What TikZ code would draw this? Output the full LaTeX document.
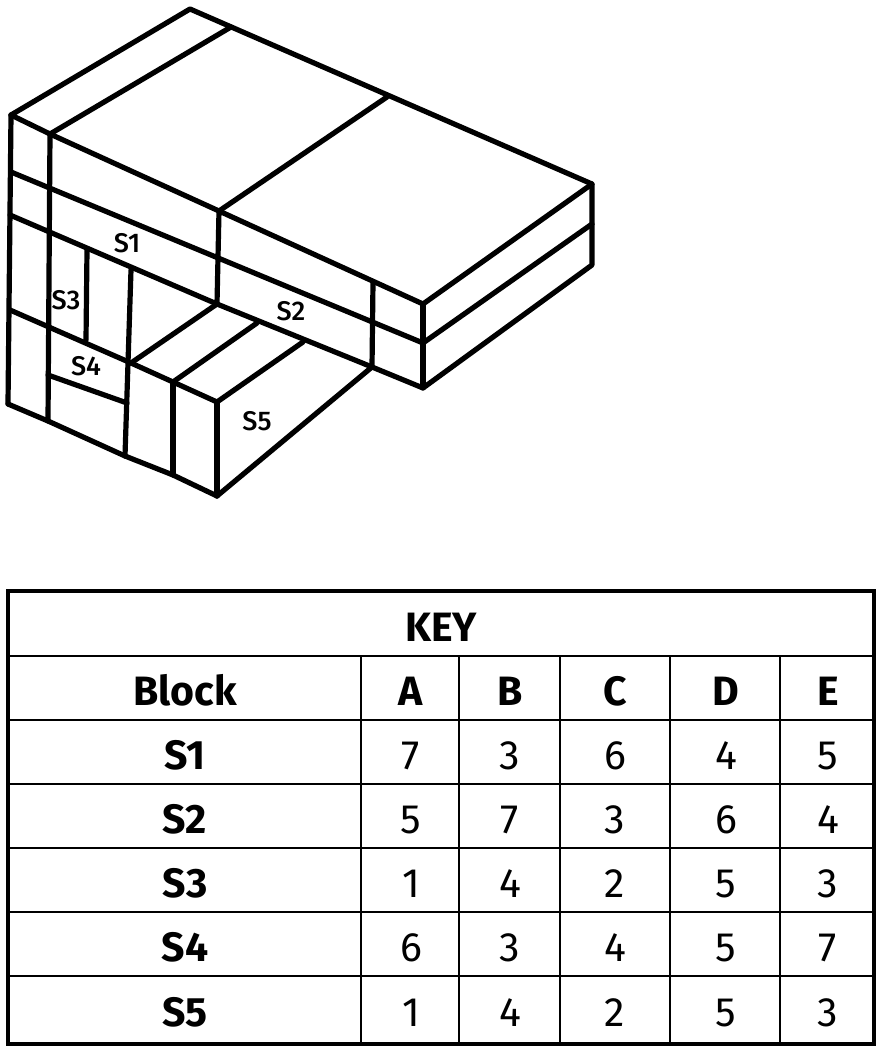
\documentclass[tikz,border=0pt]{standalone}
\usepackage{fontspec}
\setmainfont{Fira Sans}
\newfontfamily\labfont{Fira Sans Medium}
\tikzset{
  edge/.style={line width=5.2pt,line cap=round,line join=round,black},
  frame/.style={line width=4pt,black},
  grid/.style={line width=2.6pt,black},
  blocklabel/.style={font=\labfont\fontsize{27}{29}\selectfont,inner sep=0pt},
  headcell/.style={font=\fontsize{41}{44}\selectfont\bfseries,inner sep=0pt,anchor=base},
  numcell/.style={font=\fontsize{41}{44}\selectfont,inner sep=0pt,anchor=base},
}
\begin{document}
\begin{tikzpicture}[x=1pt,y=-1pt]
\useasboundingbox (0,0) rectangle (879,1051);
% corner points of the block
\coordinate (a) at (190,9);
\coordinate (b) at (11,115);
\coordinate (c) at (50,134);
\coordinate (d) at (231,27);
\coordinate (e) at (387,97);
\coordinate (f) at (219,211);
\coordinate (g) at (592,184);
\coordinate (h) at (423,304);
\coordinate (gm) at (592,224);
\coordinate (hm) at (423,343);
\coordinate (gb) at (592,265);
\coordinate (hb) at (423,388);
\coordinate (l2) at (11,172);
\coordinate (l3) at (10,215);
\coordinate (m3) at (217,304);
\coordinate (n3) at (372,367);
\coordinate (l4) at (10,310);
\coordinate (p4) at (131,363);
\coordinate (q4) at (173,382);
\coordinate (r4) at (217,402);
\coordinate (l5) at (8,404);
\coordinate (r5) at (217,496);
\coordinate (c5) at (48,421);
\coordinate (u2) at (373,282);
\coordinate (v1) at (87,250);
\coordinate (v2) at (86,340);
\coordinate (w1) at (131,270);
\coordinate (w2) at (125,456);
\coordinate (x2) at (173,475);
\coordinate (s1) at (48,375);
\coordinate (s2) at (127,403);
\coordinate (t1) at (257,323);
\coordinate (t2) at (303,342);
% outlines
\draw[edge] (b) -- (a) -- (g) -- (gb) -- (hb) -- (n3);
\draw[edge] (c) -- (d);
\draw[edge] (e) -- (f);
\draw[edge] (b) -- (c) -- (f) -- (h) -- (g);
\draw[edge] (h) -- (hb);
\draw[edge] (gm) -- (hm);
\draw[edge] (l2) -- (hm);
\draw[edge] (l3) -- (m3) -- (n3);
\draw[edge] (l4) -- (p4) -- (q4) -- (r4);
\draw[edge] (l5) -- (c5) -- (w2) -- (x2) -- (r5);
\draw[edge] (b) -- (l5);
\draw[edge] (c) -- (c5);
\draw[edge] (f) -- (m3);
\draw[edge] (u2) -- (n3);
\draw[edge] (v1) -- (v2);
\draw[edge] (w1) -- (w2);
\draw[edge] (q4) -- (x2);
\draw[edge] (r4) -- (r5);
\draw[edge] (s1) -- (s2);
\draw[edge] (p4) -- (m3);
\draw[edge] (q4) -- (t1);
\draw[edge] (r4) -- (t2);
\draw[edge] (r5) -- (n3);
% block labels
\node[blocklabel] (labS1) at (127,243) {S1};
\node[blocklabel] (labS2) at (291,311) {S2};
\node[blocklabel] (labS3) at (66,300) {S3};
\node[blocklabel] (labS4) at (86,366) {S4};
\node[blocklabel] (labS5) at (257,421) {S5};
% table
\draw[grid] (8,656) -- (874,656);
\foreach \yy in {720,784,848,912,976} \draw[grid] (8,\yy) -- (874,\yy);
\foreach \xx in {361,459,560,670,780} \draw[grid] (\xx,656) -- (\xx,1044);
\draw[frame] (8,591) rectangle (874,1044);
\node[headcell] (key) at (441,641) {KEY};
\foreach \lab/\xx in {Block/185,A/411,B/510,C/615,D/726,E/828}
  \node[headcell] (h\lab) at (\xx,705) {\lab};
\foreach \row/\yy/\va/\vb/\vc/\vd/\ve in {
  S1/769/7/3/6/4/5,
  S2/833/5/7/3/6/4,
  S3/897/1/4/2/5/3,
  S4/961/6/3/4/5/7,
  S5/1026/1/4/2/5/3}{
  \node[headcell] (r\row) at (185,\yy) {\row};
  \node[numcell] (\row A) at (411,\yy) {\va};
  \node[numcell] (\row B) at (510,\yy) {\vb};
  \node[numcell] (\row C) at (615,\yy) {\vc};
  \node[numcell] (\row D) at (726,\yy) {\vd};
  \node[numcell] (\row E) at (828,\yy) {\ve};
}
\end{tikzpicture}
\end{document}
